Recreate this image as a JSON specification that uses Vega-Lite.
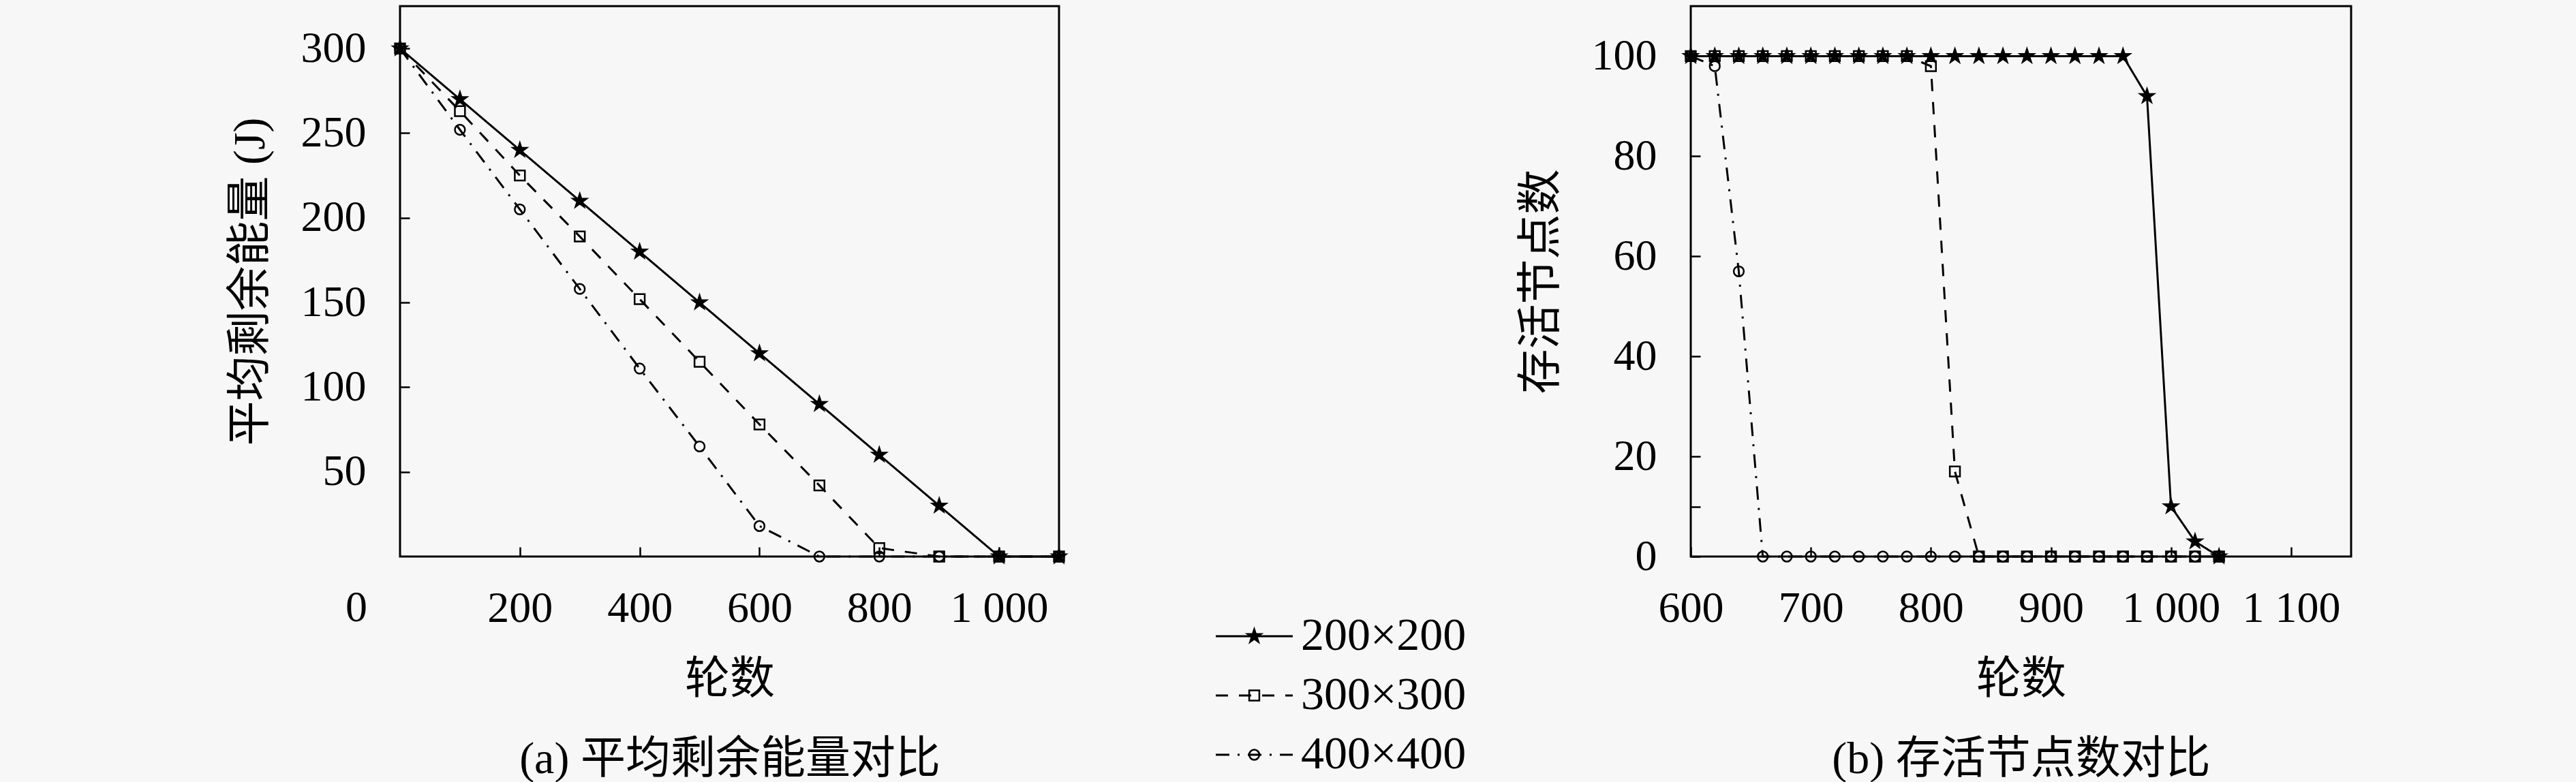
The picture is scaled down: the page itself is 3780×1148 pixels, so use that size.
{
  "$schema": "https://vega.github.io/schema/vega-lite/v6.json",
  "background": "#f7f7f7",
  "padding": {"left": 332, "top": 7, "right": 330, "bottom": 0},
  "config": {
    "view": {"stroke": "black", "strokeWidth": 3},
    "font": "Liberation Serif, Noto Sans CJK SC",
    "axis": {
      "grid": false,
      "domain": false,
      "labelFont": "Liberation Serif",
      "labelFontSize": 64,
      "labelColor": "black",
      "labelFlush": false,
      "titleFont": "Liberation Serif, Noto Sans CJK SC",
      "titleFontSize": 66,
      "titleFontWeight": "normal",
      "titleColor": "black",
      "tickColor": "black",
      "tickWidth": 2.5,
      "tickSize": -14
    },
    "axisX": {"labelPadding": 58, "titlePadding": 40, "titleLineHeight": 117},
    "axisY": {"labelPadding": 64, "titlePadding": 40}
  },
  "spacing": 73,
  "hconcat": [
    {
      "width": 967,
      "height": 808,
      "resolve": {"scale": {"x": "independent", "y": "independent"}},
      "layer": [
        {
          "data": {
            "values": [
              {"round": 0, "series": "200×200", "energy": 300},
              {"round": 100, "series": "200×200", "energy": 270},
              {"round": 200, "series": "200×200", "energy": 240},
              {"round": 300, "series": "200×200", "energy": 210},
              {"round": 400, "series": "200×200", "energy": 180},
              {"round": 500, "series": "200×200", "energy": 150},
              {"round": 600, "series": "200×200", "energy": 120},
              {"round": 700, "series": "200×200", "energy": 90},
              {"round": 800, "series": "200×200", "energy": 60},
              {"round": 900, "series": "200×200", "energy": 30},
              {"round": 1000, "series": "200×200", "energy": 0},
              {"round": 1100, "series": "200×200", "energy": 0},
              {"round": 0, "series": "300×300", "energy": 300},
              {"round": 100, "series": "300×300", "energy": 263},
              {"round": 200, "series": "300×300", "energy": 225},
              {"round": 300, "series": "300×300", "energy": 189},
              {"round": 400, "series": "300×300", "energy": 152},
              {"round": 500, "series": "300×300", "energy": 115},
              {"round": 600, "series": "300×300", "energy": 78},
              {"round": 700, "series": "300×300", "energy": 42},
              {"round": 800, "series": "300×300", "energy": 5},
              {"round": 900, "series": "300×300", "energy": 0},
              {"round": 1000, "series": "300×300", "energy": 0},
              {"round": 1100, "series": "300×300", "energy": 0},
              {"round": 0, "series": "400×400", "energy": 300},
              {"round": 100, "series": "400×400", "energy": 252},
              {"round": 200, "series": "400×400", "energy": 205},
              {"round": 300, "series": "400×400", "energy": 158},
              {"round": 400, "series": "400×400", "energy": 111},
              {"round": 500, "series": "400×400", "energy": 65},
              {"round": 600, "series": "400×400", "energy": 18},
              {"round": 700, "series": "400×400", "energy": 0},
              {"round": 800, "series": "400×400", "energy": 0},
              {"round": 900, "series": "400×400", "energy": 0},
              {"round": 1000, "series": "400×400", "energy": 0},
              {"round": 1100, "series": "400×400", "energy": 0}
            ]
          },
          "encoding": {
            "x": {
              "field": "round",
              "type": "quantitative",
              "scale": {"domain": [0, 1100], "nice": false},
              "axis": {
                "title": ["轮数", "(a) 平均剩余能量对比"],
                "values": [200, 400, 600, 800, 1000],
                "labelExpr": "datum.value >= 1000 ? '1 ' + format(datum.value - 1000, '03d') : datum.label"
              }
            },
            "y": {
              "field": "energy",
              "type": "quantitative",
              "scale": {"domain": [0, 325], "nice": false},
              "axis": {"title": "平均剩余能量 (J)", "values": [50, 100, 150, 200, 250, 300]}
            }
          },
          "layer": [
            {
              "mark": {"type": "line", "strokeWidth": 3, "color": "black"},
              "encoding": {
                "strokeDash": {
                  "field": "series",
                  "type": "nominal",
                  "scale": {"domain": ["200×200", "300×300", "400×400"], "range": [[1, 0], [18, 16], [20, 12, 3, 12]]},
                  "legend": null
                }
              }
            },
            {
              "mark": {"type": "point", "filled": true, "fill": "black", "stroke": "black", "strokeWidth": 2.5, "opacity": 1},
              "encoding": {
                "shape": {
                  "field": "series",
                  "type": "nominal",
                  "scale": {"domain": ["200×200", "300×300", "400×400"], "range": ["M0,-1L0.2245,-0.309L0.951,-0.309L0.3633,0.118L0.588,0.809L0,0.382L-0.588,0.809L-0.3633,0.118L-0.951,-0.309L-0.2245,-0.309Z", "square", "circle"]},
                  "legend": null
                },
                "fillOpacity": {"condition": {"test": "datum.series === '200×200'", "value": 1}, "value": 0},
                "size": {"condition": {"test": "datum.series === '200×200'", "value": 440}, "value": 220}
              }
            }
          ]
        },
        {
          "data": {"values": [{"round": 0, "energy": 0, "label": "0"}]},
          "mark": {"type": "text", "align": "center", "baseline": "top", "dx": -64, "dy": 44, "fontSize": 64, "font": "Liberation Serif", "color": "black"},
          "encoding": {
            "x": {"field": "round", "type": "quantitative", "scale": {"domain": [0, 1100]}, "axis": null},
            "y": {"field": "energy", "type": "quantitative", "scale": {"domain": [0, 325]}, "axis": null},
            "text": {"field": "label", "type": "nominal"}
          }
        },
        {
          "data": {"values": [{"series": "200×200"}, {"series": "300×300"}, {"series": "400×400"}]},
          "encoding": {
            "y": {
              "field": "series",
              "type": "nominal",
              "scale": {"type": "point", "padding": 0, "domain": ["200×200", "300×300", "400×400"], "range": [925, 1099]},
              "axis": null
            }
          },
          "layer": [
            {
              "mark": {"type": "rule", "strokeWidth": 3, "color": "black"},
              "encoding": {
                "x": {"datum": 0, "type": "quantitative", "scale": {"domain": [0, 1], "range": [1197, 1310]}, "axis": null},
                "x2": {"datum": 1},
                "strokeDash": {
                  "field": "series",
                  "type": "nominal",
                  "scale": {"domain": ["200×200", "300×300", "400×400"], "range": [[1, 0], [18, 16], [20, 12, 3, 12]]},
                  "legend": null
                }
              }
            },
            {
              "mark": {"type": "point", "filled": true, "fill": "black", "stroke": "black", "strokeWidth": 2.5, "opacity": 1},
              "encoding": {
                "x": {"datum": 0.5, "type": "quantitative"},
                "shape": {
                  "field": "series",
                  "type": "nominal",
                  "scale": {"domain": ["200×200", "300×300", "400×400"], "range": ["M0,-1L0.2245,-0.309L0.951,-0.309L0.3633,0.118L0.588,0.809L0,0.382L-0.588,0.809L-0.3633,0.118L-0.951,-0.309L-0.2245,-0.309Z", "square", "circle"]},
                  "legend": null
                },
                "fillOpacity": {"condition": {"test": "datum.series === '200×200'", "value": 1}, "value": 0},
                "size": {"condition": {"test": "datum.series === '200×200'", "value": 440}, "value": 220}
              }
            },
            {
              "mark": {"type": "text", "align": "left", "baseline": "middle", "dx": 12, "fontSize": 68, "font": "Liberation Serif", "color": "black"},
              "encoding": {
                "x": {"datum": 1, "type": "quantitative"},
                "text": {"field": "series", "type": "nominal"}
              }
            }
          ]
        }
      ]
    },
    {
      "width": 969,
      "height": 808,
      "data": {
        "values": [
          {"round": 600, "series": "200×200", "nodes": 100},
          {"round": 620, "series": "200×200", "nodes": 100},
          {"round": 640, "series": "200×200", "nodes": 100},
          {"round": 660, "series": "200×200", "nodes": 100},
          {"round": 680, "series": "200×200", "nodes": 100},
          {"round": 700, "series": "200×200", "nodes": 100},
          {"round": 720, "series": "200×200", "nodes": 100},
          {"round": 740, "series": "200×200", "nodes": 100},
          {"round": 760, "series": "200×200", "nodes": 100},
          {"round": 780, "series": "200×200", "nodes": 100},
          {"round": 800, "series": "200×200", "nodes": 100},
          {"round": 820, "series": "200×200", "nodes": 100},
          {"round": 840, "series": "200×200", "nodes": 100},
          {"round": 860, "series": "200×200", "nodes": 100},
          {"round": 880, "series": "200×200", "nodes": 100},
          {"round": 900, "series": "200×200", "nodes": 100},
          {"round": 920, "series": "200×200", "nodes": 100},
          {"round": 940, "series": "200×200", "nodes": 100},
          {"round": 960, "series": "200×200", "nodes": 100},
          {"round": 980, "series": "200×200", "nodes": 92},
          {"round": 1000, "series": "200×200", "nodes": 10},
          {"round": 1020, "series": "200×200", "nodes": 3},
          {"round": 1040, "series": "200×200", "nodes": 0},
          {"round": 600, "series": "300×300", "nodes": 100},
          {"round": 620, "series": "300×300", "nodes": 100},
          {"round": 640, "series": "300×300", "nodes": 100},
          {"round": 660, "series": "300×300", "nodes": 100},
          {"round": 680, "series": "300×300", "nodes": 100},
          {"round": 700, "series": "300×300", "nodes": 100},
          {"round": 720, "series": "300×300", "nodes": 100},
          {"round": 740, "series": "300×300", "nodes": 100},
          {"round": 760, "series": "300×300", "nodes": 100},
          {"round": 780, "series": "300×300", "nodes": 100},
          {"round": 800, "series": "300×300", "nodes": 98},
          {"round": 820, "series": "300×300", "nodes": 17},
          {"round": 840, "series": "300×300", "nodes": 0},
          {"round": 860, "series": "300×300", "nodes": 0},
          {"round": 880, "series": "300×300", "nodes": 0},
          {"round": 900, "series": "300×300", "nodes": 0},
          {"round": 920, "series": "300×300", "nodes": 0},
          {"round": 940, "series": "300×300", "nodes": 0},
          {"round": 960, "series": "300×300", "nodes": 0},
          {"round": 980, "series": "300×300", "nodes": 0},
          {"round": 1000, "series": "300×300", "nodes": 0},
          {"round": 1020, "series": "300×300", "nodes": 0},
          {"round": 1040, "series": "300×300", "nodes": 0},
          {"round": 600, "series": "400×400", "nodes": 100},
          {"round": 620, "series": "400×400", "nodes": 98},
          {"round": 640, "series": "400×400", "nodes": 57},
          {"round": 660, "series": "400×400", "nodes": 0},
          {"round": 680, "series": "400×400", "nodes": 0},
          {"round": 700, "series": "400×400", "nodes": 0},
          {"round": 720, "series": "400×400", "nodes": 0},
          {"round": 740, "series": "400×400", "nodes": 0},
          {"round": 760, "series": "400×400", "nodes": 0},
          {"round": 780, "series": "400×400", "nodes": 0},
          {"round": 800, "series": "400×400", "nodes": 0},
          {"round": 820, "series": "400×400", "nodes": 0},
          {"round": 840, "series": "400×400", "nodes": 0},
          {"round": 860, "series": "400×400", "nodes": 0},
          {"round": 880, "series": "400×400", "nodes": 0},
          {"round": 900, "series": "400×400", "nodes": 0},
          {"round": 920, "series": "400×400", "nodes": 0},
          {"round": 940, "series": "400×400", "nodes": 0},
          {"round": 960, "series": "400×400", "nodes": 0},
          {"round": 980, "series": "400×400", "nodes": 0},
          {"round": 1000, "series": "400×400", "nodes": 0},
          {"round": 1020, "series": "400×400", "nodes": 0},
          {"round": 1040, "series": "400×400", "nodes": 0}
        ]
      },
      "encoding": {
        "x": {
          "field": "round",
          "type": "quantitative",
          "scale": {"domain": [600, 1150], "nice": false},
          "axis": {
            "title": ["轮数", "(b) 存活节点数对比"],
            "values": [600, 700, 800, 900, 1000, 1100],
            "labelExpr": "datum.value >= 1000 ? '1 ' + format(datum.value - 1000, '03d') : datum.label"
          }
        },
        "y": {
          "field": "nodes",
          "type": "quantitative",
          "scale": {"domain": [0, 110], "nice": false},
          "axis": {
            "title": "存活节点数",
            "values": [0, 10, 20, 40, 60, 80, 100],
            "labelExpr": "datum.value == 10 ? '' : datum.label"
          }
        }
      },
      "layer": [
        {
          "mark": {"type": "line", "strokeWidth": 3, "color": "black"},
          "encoding": {
            "strokeDash": {
              "field": "series",
              "type": "nominal",
              "scale": {"domain": ["200×200", "300×300", "400×400"], "range": [[1, 0], [18, 16], [20, 12, 3, 12]]},
              "legend": null
            }
          }
        },
        {
          "mark": {"type": "point", "filled": true, "fill": "black", "stroke": "black", "strokeWidth": 2.5, "opacity": 1},
          "encoding": {
            "shape": {
              "field": "series",
              "type": "nominal",
              "scale": {"domain": ["200×200", "300×300", "400×400"], "range": ["M0,-1L0.2245,-0.309L0.951,-0.309L0.3633,0.118L0.588,0.809L0,0.382L-0.588,0.809L-0.3633,0.118L-0.951,-0.309L-0.2245,-0.309Z", "square", "circle"]},
              "legend": null
            },
            "fillOpacity": {"condition": {"test": "datum.series === '200×200'", "value": 1}, "value": 0},
            "size": {"condition": {"test": "datum.series === '200×200'", "value": 440}, "value": 220}
          }
        }
      ]
    }
  ]
}
